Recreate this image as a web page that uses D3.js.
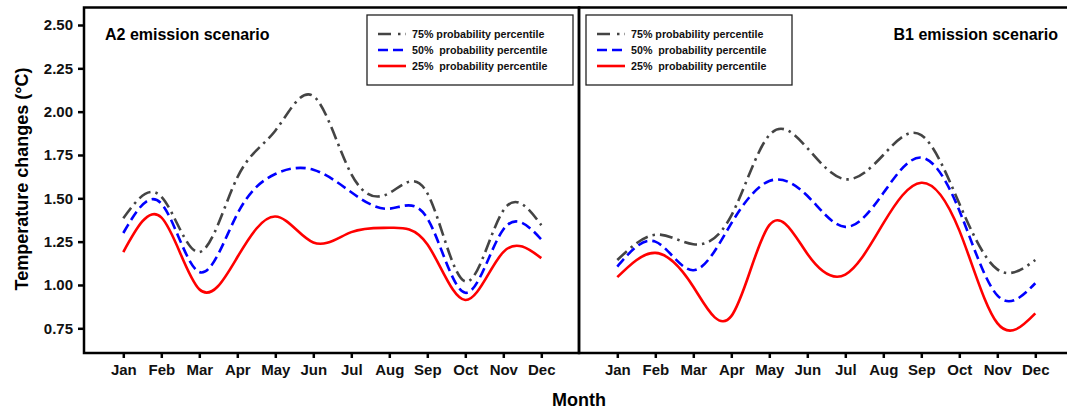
<!doctype html>
<html lang="en">
<head>
  <meta charset="utf-8">
  <title>Temperature changes by month</title>
  <script src="https://d3js.org/d3.v7.min.js"></script>
  <style>
    html, body { margin: 0; padding: 0; background: #fff; }
    svg { display: block; font-family: "Liberation Sans", Arial, Helvetica, sans-serif; font-weight: bold; }
    .axis path, .axis line { stroke: #000; stroke-width: 2.5; }
    .axis text { font-size: 15px; font-weight: bold; fill: #111; }
    .line { fill: none; stroke-width: 2.6; }
    .legend text { font-size: 10.7px; fill: #111; white-space: pre; }
  </style>
</head>
<body>
  <div id="chart"></div>
  <script>
    const months = ["Jan","Feb","Mar","Apr","May","Jun","Jul","Aug","Sep","Oct","Nov","Dec"];
    const yTicks = [0.75, 1.00, 1.25, 1.50, 1.75, 2.00, 2.25, 2.50];

    // A2 emission scenario
    const a2P75 = [1.385, 1.51, 1.19, 1.62, 1.89, 2.09, 1.64, 1.53, 1.53, 1.02, 1.43, 1.345];
    const a2P50 = [1.30, 1.47, 1.075, 1.41, 1.64, 1.665, 1.535, 1.44, 1.385, 0.955, 1.32, 1.263];
    const a2P25 = [1.19, 1.39, 0.975, 1.16, 1.395, 1.245, 1.305, 1.33, 1.235, 0.913, 1.19, 1.155];

    // B1 emission scenario
    const b1P75 = [1.144, 1.29, 1.235, 1.40, 1.865, 1.79, 1.61, 1.75, 1.865, 1.47, 1.09, 1.144];
    const b1P50 = [1.106, 1.25, 1.085, 1.355, 1.60, 1.515, 1.335, 1.53, 1.735, 1.43, 0.94, 1.01];
    const b1P25 = [1.045, 1.185, 0.99, 0.82, 1.345, 1.18, 1.06, 1.355, 1.59, 1.315, 0.78, 0.836];

    const seriesStyle = [
      { key: "p75", label: "75% probability percentile",  color: "#444", dash: "13,5,2.5,5" },
      { key: "p50", label: "50%  probability percentile", color: "#0000ff", dash: "10,5" },
      { key: "p25", label: "25%  probability percentile", color: "#ff0000", dash: null }
    ];

    const width = 1067, height = 414;
    const plotTop = 7.5, plotBottom = 353;

    const svg = d3.select("#chart").append("svg")
      .attr("width", width).attr("height", height);

    const y = d3.scaleLinear().domain([0.75, 2.5]).range([328.3, 25]);

    function drawPanel(opt) {
      const x = d3.scaleLinear().domain([0, 11]).range([opt.jan, opt.jan + 11 * 38]);
      const g = svg.append("g");

      // frame
      g.append("rect")
        .attr("x", opt.left).attr("y", plotTop)
        .attr("width", opt.right - opt.left).attr("height", plotBottom - plotTop)
        .attr("fill", "none").attr("stroke", "#000").attr("stroke-width", 2.5);

      // x axis
      const xAxis = g.append("g").attr("class", "axis")
        .attr("transform", `translate(0,${plotBottom})`)
        .call(d3.axisBottom(x).tickValues(d3.range(12))
          .tickFormat(i => months[i]).tickSizeOuter(0).tickSizeInner(5).tickPadding(6));
      xAxis.select(".domain").remove();

      if (opt.yAxis) {
        const yAxis = g.append("g").attr("class", "axis")
          .attr("transform", `translate(${opt.left},0)`)
          .call(d3.axisLeft(y).tickValues(yTicks).tickFormat(d3.format(".2f"))
            .tickSizeOuter(0).tickSizeInner(6).tickPadding(5));
        yAxis.select(".domain").remove();
      }

      const line = d3.line()
        .x((d, i) => x(i))
        .y(d => y(d))
        .curve(d3.curveNatural);

      seriesStyle.forEach(s => {
        g.append("path")
          .datum(opt.data[s.key])
          .attr("class", "line")
          .attr("stroke", s.color)
          .attr("stroke-dasharray", s.dash)
          .attr("d", line);
      });

      // panel title
      g.append("text")
        .attr("x", opt.titleX).attr("y", 40)
        .attr("text-anchor", opt.titleAnchor)
        .attr("font-size", 16)
        .text(opt.title);

      // legend
      const lg = g.append("g").attr("class", "legend")
        .attr("transform", `translate(${opt.legendX},15)`);
      lg.append("rect")
        .attr("width", 206).attr("height", 70)
        .attr("fill", "#fff").attr("stroke", "#222").attr("stroke-width", 1.3);
      seriesStyle.forEach((s, i) => {
        const row = lg.append("g").attr("transform", `translate(0,${19 + i * 16})`);
        row.append("line")
          .attr("x1", 11).attr("x2", 39)
          .attr("stroke", s.color).attr("stroke-width", 2.6)
          .attr("stroke-dasharray", s.key === "p75" ? "13,7,2.5,5" : s.key === "p50" ? "10,5" : null);
        row.append("text")
          .attr("x", 45).attr("y", 3.8)
          .text(s.label);
      });
    }

    drawPanel({
      left: 84, right: 579, jan: 123.3, yAxis: true,
      title: "A2 emission scenario", titleX: 105, titleAnchor: "start",
      legendX: 367,
      data: { p75: a2P75, p50: a2P50, p25: a2P25 }
    });

    drawPanel({
      left: 579, right: 1090, jan: 617.3, yAxis: false,
      title: "B1 emission scenario", titleX: 1058, titleAnchor: "end",
      legendX: 586,
      data: { p75: b1P75, p50: b1P50, p25: b1P25 }
    });

    // axis titles
    svg.append("text")
      .attr("x", 579).attr("y", 406)
      .attr("text-anchor", "middle")
      .attr("font-size", 18)
      .text("Month");

    svg.append("text")
      .attr("transform", "rotate(-90)")
      .attr("x", -179).attr("y", 28)
      .attr("text-anchor", "middle")
      .attr("font-size", 18)
      .text("Temperature changes (°C)");
  </script>
</body>
</html>
